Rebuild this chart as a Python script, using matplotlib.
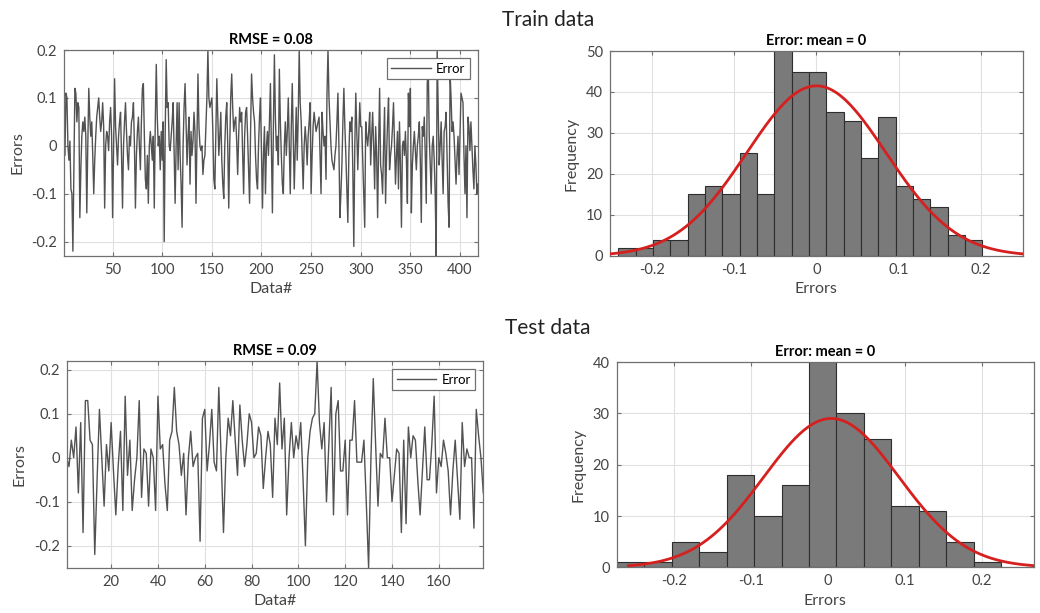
"""Train / test error plots: error traces and error histograms with normal fits."""

import numpy as np
import matplotlib
matplotlib.use("Agg")
import matplotlib.pyplot as plt

# ---- data ----
train_err = [
    0.14, -0.02, 0.11, 0.10, 0.0, -0.03, 0.01, -0.09, -0.1, -0.22, -0.05, 0.12, 0.11, 0.05, 0.09, 0.08, -0.15, -0.05, 0.02, 0.05,
    0.03, 0.06, 0.02, -0.14, 0.0, 0.12, 0.06, 0.02, 0.05, -0.02, -0.1, -0.03, 0.02, 0.06, 0.08, 0.1, 0.06, 0.03, 0.05, 0.09,
    0.04, -0.13, 0.0, 0.03, 0.02, -0.01, 0.05, 0.08, 0.02, -0.15, 0.0, 0.14, 0.04, 0.0, -0.04, 0.02, 0.05, 0.07, -0.02, -0.13,
    0.0, 0.05, 0.09, 0.03, -0.02, -0.05, 0.02, 0.0, 0.05, 0.06, 0.09, 0.0, -0.13, -0.02, 0.03, 0.06, 0.0, -0.05, 0.05, 0.12,
    0.13, 0.02, -0.07, -0.09, -0.02, -0.12, 0.0, 0.03, 0.0, -0.03, 0.02, -0.13, 0.05, 0.17, 0.06, 0.0, 0.02, -0.05, 0.03, -0.03,
    0.05, -0.2, 0.03, 0.18, 0.08, 0.09, 0.0, -0.01, 0.02, 0.05, 0.09, -0.02, -0.12, 0.0, 0.09, -0.05, 0.09, -0.02, -0.08, -0.17,
    0.0, 0.08, 0.13, 0.05, -0.04, 0.02, 0.06, -0.08, 0.03, -0.02, 0.01, 0.07, 0.03, -0.12, 0.02, 0.15, 0.04, 0.0, -0.01, 0.0,
    -0.06, -0.03, -0.02, 0.04, 0.1, 0.2, 0.1, 0.08, 0.09, 0.1, 0.03, -0.07, -0.09, 0.02, 0.14, 0.06, -0.02, 0.02, 0.07, -0.03,
    -0.08, -0.11, 0.0, 0.06, 0.09, 0.0, -0.13, 0.0, 0.1, 0.15, 0.08, 0.03, 0.05, 0.06, 0.01, -0.06, 0.02, 0.08, 0.05, 0.07,
    -0.02, -0.1, 0.02, 0.07, 0.08, 0.02, -0.05, -0.12, 0.03, 0.15, 0.1, 0.07, 0.05, -0.02, -0.07, -0.09, 0.0, 0.06, 0.1, -0.02,
    -0.13, -0.02, 0.04, -0.1, 0.0, 0.03, -0.02, 0.05, 0.13, 0.0, -0.14, 0.04, 0.19, 0.06, -0.01, 0.02, -0.04, 0.16, 0.05, -0.02,
    -0.08, -0.1, 0.0, 0.05, -0.02, 0.03, 0.1, 0.0, -0.1, 0.04, 0.13, 0.02, -0.09, 0.0, 0.08, -0.03, 0.06, 0.2, 0.09, 0.05,
    -0.02, -0.09, 0.0, 0.04, 0.01, -0.04, 0.02, 0.05, 0.09, -0.1, -0.02, 0.04, 0.07, 0.05, 0.03, 0.04, 0.05, 0.06, -0.02, -0.1,
    0.07, 0.03, 0.0, 0.02, -0.07, 0.11, 0.2, 0.1, 0.05, 0.0, -0.03, -0.04, -0.05, -0.02, 0.0, 0.05, 0.11, 0.0, -0.15, -0.1,
    -0.04, 0.05, 0.12, 0.04, -0.02, -0.09, -0.16, -0.02, 0.05, 0.03, 0.06, -0.05, -0.21, 0.0, 0.11, 0.03, -0.05, 0.02, 0.09, 0.04,
    0.04, -0.03, -0.1, -0.17, 0.05, 0.02, 0.0, 0.03, 0.07, -0.04, 0.02, 0.07, 0.0, -0.09, 0.04, -0.02, -0.15, 0.0, 0.12, -0.04,
    -0.06, -0.1, 0.0, 0.08, -0.12, -0.02, 0.05, 0.1, -0.05, -0.02, 0.0, 0.04, 0.09, 0.0, -0.08, -0.02, 0.03, -0.09, 0.05, -0.04,
    -0.17, 0.0, 0.01, -0.02, 0.03, -0.03, -0.12, 0.11, 0.04, 0.12, -0.14, -0.04, 0.0, 0.03, -0.01, -0.05, 0.0, 0.02, 0.05, -0.03,
    -0.16, 0.04, 0.02, 0.06, -0.02, -0.12, 0.13, 0.17, 0.02, -0.04, -0.1, 0.0, 0.02, -0.03, -0.1, -0.23, 0.2, 0.08, -0.04, 0.0,
    0.05, -0.03, -0.1, 0.03, 0.04, 0.07, -0.02, -0.12, -0.17, 0.15, 0.1, 0.03, 0.05, 0.02, -0.03, -0.08, -0.02, 0.02, -0.06, 0.03,
    0.11, 0.1, 0.09, -0.02, -0.1, 0.0, -0.15, 0.06, 0.04, -0.01, 0.05, 0.0, -0.05, -0.09, 0.0, -0.04, -0.1, -0.08,
]

test_err = [
    0.0, -0.02, 0.04, 0.0, 0.07, -0.08, 0.08, -0.17, 0.13, 0.13, 0.04, 0.03, -0.22, -0.05, 0.11, 0.0, -0.11, 0.03, -0.03, 0.08,
    -0.03, -0.13, -0.02, 0.06, -0.12, 0.14, -0.04, 0.04, -0.12, -0.05, 0.0, 0.13, -0.09, 0.02, 0.01, -0.11, 0.02, 0.0, -0.12, 0.14,
    0.02, 0.03, -0.06, -0.12, 0.04, 0.06, 0.16, 0.06, 0.03, -0.04, 0.01, -0.13, 0.0, 0.06, -0.02, 0.0, 0.01, -0.19, 0.09, 0.11,
    -0.03, 0.03, 0.11, -0.01, -0.03, 0.16, 0.0, -0.17, 0.0, 0.09, 0.05, 0.13, 0.04, -0.04, 0.12, 0.04, -0.02, 0.03, 0.1, 0.08,
    0.0, 0.01, 0.07, 0.05, -0.07, 0.0, 0.06, 0.03, -0.09, 0.09, 0.03, 0.17, 0.02, 0.09, -0.13, 0.0, 0.08, 0.0, 0.05, 0.02,
    0.08, -0.05, -0.2, 0.0, 0.06, 0.09, 0.1, 0.22, 0.08, 0.02, 0.08, -0.1, 0.03, 0.16, -0.13, 0.1, 0.13, -0.03, -0.03, 0.04,
    -0.13, 0.04, 0.04, 0.13, -0.01, -0.01, -0.01, 0.04, -0.1, -0.25, 0.0, 0.18, 0.03, -0.11, 0.01, 0.0, 0.09, 0.0, 0.0, -0.1,
    -0.04, 0.02, 0.01, -0.17, 0.04, -0.15, 0.07, 0.0, 0.05, 0.04, -0.05, -0.13, -0.03, 0.07, -0.05, -0.05, 0.03, 0.14, -0.08, 0.0,
    -0.02, 0.04, 0.01, -0.03, -0.13, -0.03, 0.04, -0.05, -0.14, 0.08, -0.02, 0.02, 0.0, 0.0, -0.16, 0.11, 0.05, 0.0, -0.08,
]

train_counts = [2, 2, 4, 4, 15, 17, 15, 25, 15, 51, 45, 45, 35, 33, 24, 34, 17, 14, 12, 5, 4]
train_bin_start, train_bin_width = -0.2404, 0.02103
train_mu, train_sigma = 0.0, 0.0845

test_counts = [1, 1, 5, 3, 18, 10, 16, 41, 30, 25, 12, 11, 5, 1]
test_bin_start, test_bin_width = -0.2749, 0.0357
test_mu, test_sigma = 0.004, 0.0879

plt.rcParams['font.family'] = ['Lato', 'DejaVu Sans']
plt.rcParams['axes.unicode_minus'] = False

TXT = '#444444'
FRAME = '#707070'
LINE = '#525252'


def style_axes(ax):
    ax.grid(True, color='#e0e0e0', linewidth=0.8)
    ax.set_axisbelow(True)
    for s in ax.spines.values():
        s.set_color(FRAME)
        s.set_linewidth(0.9)
    ax.tick_params(direction='in', length=3, top=True, right=True, pad=5,
                   colors=FRAME, labelcolor=TXT, labelsize=10.5)


def plot_errors(ax, err, rmse, ylim, xstep):
    x = np.arange(1, len(err) + 1)
    ax.plot(x, err, color=LINE, linewidth=1.0, label='Error')
    ax.set_xlim(1, len(err))
    ax.set_ylim(*ylim)
    ax.set_xticks(np.arange(xstep, len(err), xstep))
    ax.set_yticks([-0.2, -0.1, 0, 0.1, 0.2])
    ax.set_yticklabels(['-0.2', '-0.1', '0', '0.1', '0.2'])
    ax.set_xlabel('Data#', fontsize=11.5, color=TXT, labelpad=4)
    ax.set_ylabel('Errors', fontsize=11.5, color=TXT, labelpad=5)
    ax.set_title(f'RMSE = {rmse}', fontsize=10.5, fontweight='bold', pad=4)
    style_axes(ax)
    leg = ax.legend(loc='upper right', fontsize=9.5, handlelength=3.0,
                    borderaxespad=0.6, fancybox=False, framealpha=1,
                    borderpad=0.35, handletextpad=0.4)
    leg.get_frame().set_edgecolor(FRAME)
    leg.get_frame().set_linewidth(0.9)


def plot_hist(ax, counts, start, width, mu, sigma, xlim, ylim, ystep):
    edges = start + width * np.arange(len(counts))
    ax.bar(edges, counts, width=width, align='edge', color='#7a7a7a',
           edgecolor='#2e2e2e', linewidth=0.8, zorder=2)
    # fitted normal curve over mu +/- 3 sigma
    xs = np.linspace(mu - 3 * sigma, mu + 3 * sigma, 300)
    pdf = np.sum(counts) * width / (sigma * np.sqrt(2 * np.pi)) * \
        np.exp(-0.5 * ((xs - mu) / sigma) ** 2)
    ax.plot(xs, pdf, color='#d62020', linewidth=2, zorder=3)
    ax.set_xlim(*xlim)
    ax.set_ylim(*ylim)
    ax.set_xticks([-0.2, -0.1, 0, 0.1, 0.2])
    ax.set_xticklabels(['-0.2', '-0.1', '0', '0.1', '0.2'])
    ax.set_yticks(np.arange(0, ylim[1] + 1, ystep))
    ax.set_xlabel('Errors', fontsize=11.5, color=TXT, labelpad=4)
    ax.set_ylabel('Frequency', fontsize=11.5, color=TXT, labelpad=5)
    ax.set_title('Error: mean = 0', fontsize=10.5, fontweight='bold', pad=4)
    style_axes(ax)


def main():
    fig = plt.figure(figsize=(10.4, 6.13), dpi=100)

    ax1 = fig.add_axes([0.0615, 0.5824, 0.398, 0.336])
    ax2 = fig.add_axes([0.5865, 0.5824, 0.397, 0.3344])
    ax3 = fig.add_axes([0.0641, 0.0739, 0.4006, 0.3372])
    ax4 = fig.add_axes([0.593, 0.0745, 0.4013, 0.3349])

    plot_errors(ax1, train_err, 0.08, (-0.23, 0.2), 50)
    plot_hist(ax2, train_counts, train_bin_start, train_bin_width,
              train_mu, train_sigma, (-0.2505, 0.2505), (0, 50), 10)
    plot_errors(ax3, test_err, 0.09, (-0.25, 0.22), 20)
    plot_hist(ax4, test_counts, test_bin_start, test_bin_width,
              test_mu, test_sigma, (-0.2749, 0.2675), (0, 40), 10)

    fig.text(0.527, 0.967, 'Train data', ha='center', va='center',
             fontsize=15, color='#222222')
    fig.text(0.527, 0.465, 'Test data', ha='center', va='center',
             fontsize=15, color='#222222')

    fig.savefig('out.png', dpi=100)


if __name__ == "__main__":
    main()
